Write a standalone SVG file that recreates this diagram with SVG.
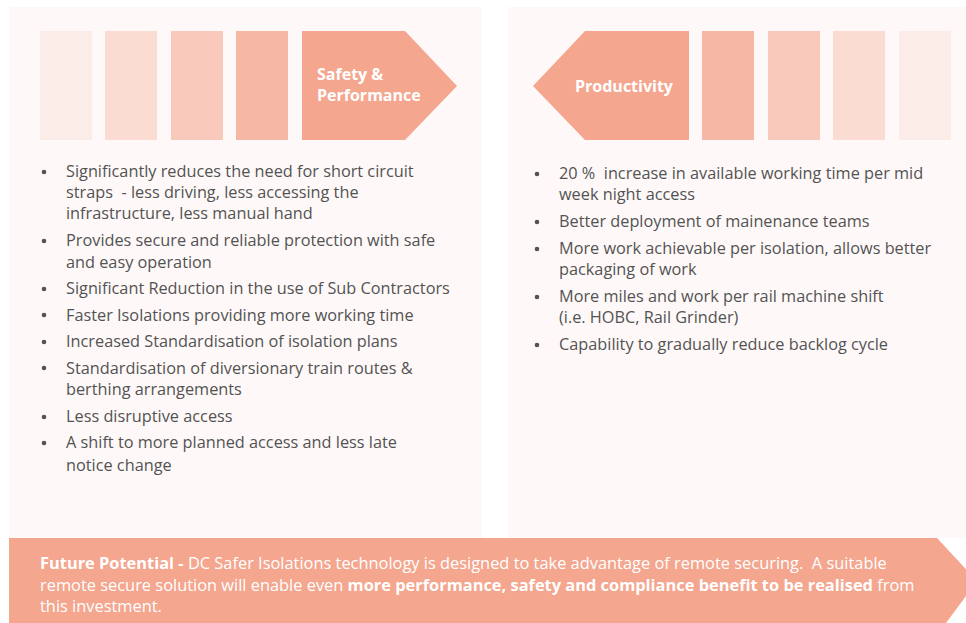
<svg xmlns="http://www.w3.org/2000/svg" width="966" height="623" viewBox="0 0 966 623">
<style>
.panel{fill:#fef9f8}
.c1{fill:#fcece7}
.c2{fill:#fbdcd3}
.c3{fill:#f9cabc}
.c4{fill:#f6b8a5}
.c5{fill:#f4a68f}
.t{font-family:"Open Sans","Noto Sans",sans-serif;font-size:16.3px;fill:#535353}
.h{font-family:"Open Sans","Noto Sans",sans-serif;font-size:16px;font-weight:bold;fill:#ffffff}
.f{font-family:"Open Sans","Noto Sans",sans-serif;font-size:16.4px;fill:#ffffff}
.b{font-weight:bold}
.dot{fill:#535353}
</style>
<rect width="966" height="623" fill="#ffffff"/>
<g id="left-panel">
<rect class="panel" x="9" y="7" width="473" height="531"/>
<rect class="c1" x="40" y="31" width="52" height="109"/>
<rect class="c2" x="105" y="31" width="52" height="109"/>
<rect class="c3" x="171" y="31" width="52" height="109"/>
<rect class="c4" x="236" y="31" width="52" height="109"/>
</g>
<g id="safety-performance">
<polygon class="c5" points="302,31 405,31 457,86 405,140 302,140"/>
<text class="h" x="317" y="80">Safety &amp;</text>
<text class="h" x="317" y="101">Performance</text>
</g>
<g id="left-list">
<g class="dot">
<circle cx="44" cy="172" r="2.3"/>
<circle cx="44" cy="241" r="2.3"/>
<circle cx="44" cy="289" r="2.3"/>
<circle cx="44" cy="315" r="2.3"/>
<circle cx="44" cy="342" r="2.3"/>
<circle cx="44" cy="368" r="2.3"/>
<circle cx="44" cy="417" r="2.3"/>
<circle cx="44" cy="443" r="2.3"/>
</g>
<text class="t" x="66" y="177">Significantly reduces the need for short circuit</text>
<text class="t" x="66" y="198" xml:space="preserve">straps  - less driving, less accessing the</text>
<text class="t" x="66" y="219">infrastructure, less manual hand</text>
<text class="t" x="66" y="246">Provides secure and reliable protection with safe</text>
<text class="t" x="66" y="268">and easy operation</text>
<text class="t" x="66" y="294">Significant Reduction in the use of Sub Contractors</text>
<text class="t" x="66" y="321">Faster Isolations providing more working time</text>
<text class="t" x="66" y="347">Increased Standardisation of isolation plans</text>
<text class="t" x="66" y="374">Standardisation of diversionary train routes &amp;</text>
<text class="t" x="66" y="395">berthing arrangements</text>
<text class="t" x="66" y="422">Less disruptive access</text>
<text class="t" x="66" y="448">A shift to more planned access and less late</text>
<text class="t" x="66" y="471">notice change</text>
</g>
<g id="right-panel">
<rect class="panel" x="508" y="7" width="458" height="531"/>
<rect class="c4" x="702" y="31" width="52" height="109"/>
<rect class="c3" x="768" y="31" width="52" height="109"/>
<rect class="c2" x="833" y="31" width="52" height="109"/>
<rect class="c1" x="899" y="31" width="52" height="109"/>
</g>
<g id="productivity">
<polygon class="c5" points="689,31 585,31 533,86 585,140 689,140"/>
<text class="h" x="624" y="92" text-anchor="middle">Productivity</text>
</g>
<g id="right-list">
<g class="dot">
<circle cx="537" cy="174" r="2.3"/>
<circle cx="537" cy="222" r="2.3"/>
<circle cx="537" cy="249" r="2.3"/>
<circle cx="537" cy="297" r="2.3"/>
<circle cx="537" cy="345" r="2.3"/>
</g>
<text class="t" x="559" y="179" xml:space="preserve">20 %  increase in available working time per mid</text>
<text class="t" x="559" y="200">week night access</text>
<text class="t" x="559" y="227">Better deployment of mainenance teams</text>
<text class="t" x="559" y="254">More work achievable per isolation, allows better</text>
<text class="t" x="559" y="275">packaging of work</text>
<text class="t" x="559" y="302">More miles and work per rail machine shift</text>
<text class="t" x="559" y="323">(i.e. HOBC, Rail Grinder)</text>
<text class="t" x="559" y="350">Capability to gradually reduce backlog cycle</text>
</g>
<g id="future-potential">
<polygon class="c5" points="9,538 937,538 977,581 946,623 9,623"/>
<text class="f" x="40" y="569" xml:space="preserve"><tspan class="b">Future Potential - </tspan>DC Safer Isolations technology is designed to take advantage of remote securing.  A suitable</text>
<text class="f" x="40" y="591">remote secure solution will enable even <tspan class="b">more performance, safety and compliance benefit to be realised</tspan> from</text>
<text class="f" x="40" y="612">this investment.</text>
</g>
</svg>
